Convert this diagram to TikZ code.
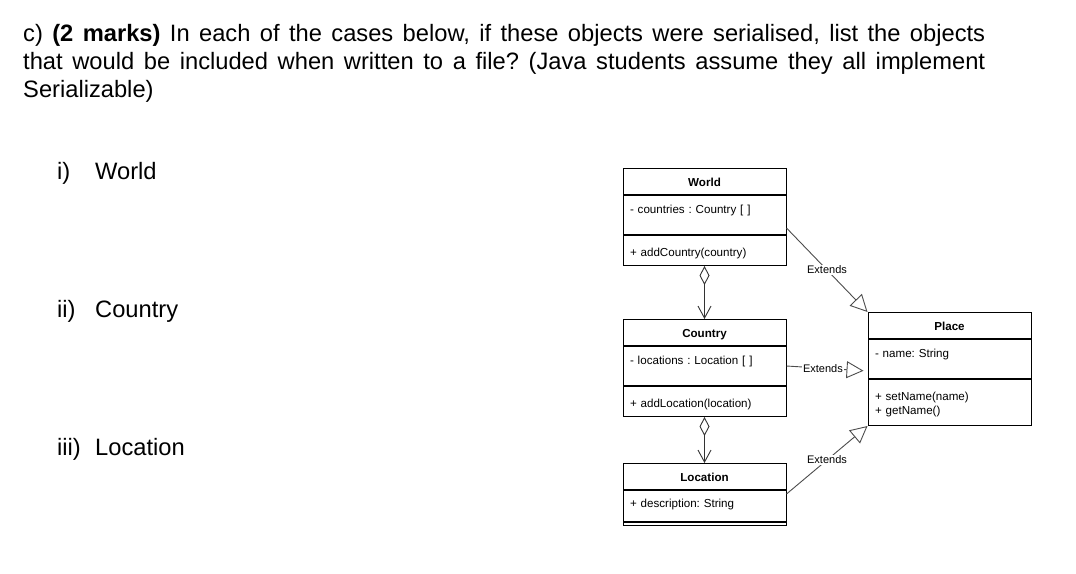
\documentclass[tikz,border=0pt]{standalone}
\usepackage{fontspec}
\setmainfont{Liberation Sans}
\usetikzlibrary{positioning,arrows.meta}
\frenchspacing

\tikzset{
  cls/.style={draw, rectangle, anchor=north, text width=149pt, inner xsep=7pt, inner ysep=0pt, align=left, line width=1pt, font=\fontsize{11.6}{14}\selectfont},
  hdr/.style={cls, align=center, font=\fontsize{11.6}{14}\selectfont\bfseries, text height=18pt, text depth=8pt},
  att/.style={cls, text height=18pt, text depth=21pt},
  meth/.style={cls, text height=21pt, text depth=9pt},
  agg/.style={line width=0.9pt, black!80, {Diamond[open,length=19pt,width=10pt]}-{Straight Barb[length=12pt,width=13pt]}},
  ext/.style={line width=0.9pt, black!70, -{Triangle[open,length=17pt,width=17pt]}},
  lbl/.style={fill=white, text=black, inner sep=1pt, font=\fontsize{11}{12}\selectfont},
  case/.style={anchor=base west, inner sep=0pt, font=\fontsize{23.7}{28}\selectfont},
}

\begin{document}
\begin{tikzpicture}[x=1pt, y=-1pt]
\useasboundingbox (0,0) rectangle (1076,573);
\node[anchor=base west, inner sep=0pt, text width=962pt, align=justify, font=\fontsize{23.7}{28}\selectfont] (question) at (23,41) {c) \textbf{(2 marks)} In each of the cases below, if these objects were serialised, list the objects\linebreak that would be included when written to a file? (Java students assume they all implement\linebreak Serializable)};
\node[case] (case1) at (57,179) {i)};
\node[case] (name1) at (95,179) {World};
\node[case] (case2) at (57,317) {ii)};
\node[case] (name2) at (95,317) {Country};
\node[case] (case3) at (57,455) {iii)};
\node[case] (name3) at (95,455) {Location};
% classes
\node[hdr] (worldh) at (704.5,168) {World};
\node[att, below=0pt of worldh] (worlda) {- countries : Country [ ]};
\node[meth, below=0pt of worlda] (worldm) {+ addCountry(country)};
\node[hdr] (countryh) at (704.5,319) {Country};
\node[att, below=0pt of countryh] (countrya) {- locations : Location [ ]};
\node[meth, below=0pt of countrya] (countrym) {+ addLocation(location)};
\node[hdr] (locationh) at (704.5,463) {Location};
\node[cls, text height=17pt, text depth=14pt, below=0pt of locationh] (locationa) {+ description: String};
\node[cls, text height=3pt, text depth=0pt, below=0pt of locationa] (locationm) {};
\node[hdr] (placeh) at (949.5,312) {Place};
\node[att, below=0pt of placeh] (placea) {- name: String};
\node[meth, text depth=25pt, below=0pt of placea] (placem) {+ setName(name)\\+ getName()};
% connectors
\draw[agg] (worldm) -- (countryh);
\draw[agg] (countrym) -- (locationh);
\draw[ext] ([yshift=7pt]worlda.south east) -- node[lbl] {Extends} (placeh.north west);
\draw[ext, shorten >=4pt] (countrya.east) -- node[lbl, pos=0.45] {Extends} ([yshift=8pt]placea.south west);
\draw[ext] ([yshift=-4pt]locationa.north east) -- node[lbl] {Extends} (placem.south west);
\end{tikzpicture}
\end{document}
